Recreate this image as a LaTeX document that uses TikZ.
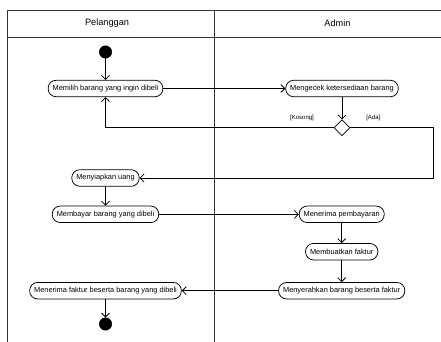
\documentclass[tikz,border=0pt]{standalone}
\usepackage{fontspec}
\setmainfont{Liberation Sans}
\usetikzlibrary{arrows.meta,shapes.geometric}
\tikzset{
  act/.style={draw, line width=0.75pt, rounded corners=8pt, minimum height=16.5pt, inner xsep=4.5pt, inner ysep=0pt, font=\fontsize{7.4}{8}\selectfont, fill=white},
  dot/.style={circle, fill=black, draw=black, minimum size=12.5pt, inner sep=0pt},
  decis/.style={diamond, draw, line width=0.75pt, shape aspect=1, minimum size=16pt, inner sep=0pt, fill=white},
  flow/.style={line width=0.75pt, -{Straight Barb[length=4pt,width=8pt,line width=0.75pt]}},
  lane/.style={line width=0.9pt, draw=black!80},
  guard/.style={font=\fontsize{6}{6}\selectfont, inner sep=0pt},
  head/.style={font=\fontsize{9.2}{10}\selectfont, inner sep=0pt}
}
\begin{document}
\begin{tikzpicture}[x=1pt,y=-1pt]
\useasboundingbox (0,0) rectangle (441,342);
% swimlane frame
\coordinate (tl) at (7,10);
\coordinate (tr) at (441,10);
\coordinate (hl) at (7,37);
\coordinate (hr) at (441,37);
\coordinate (bl) at (7,342);
\coordinate (mt) at (214,10);
\coordinate (mb) at (214,342);
\draw[lane] (tr) -- (tl) -- (bl);
\draw[lane] (hl) -- (hr);
\draw[lane] (mt) -- (mb);
\node[head] (h1) at (107,23.5) {Pelanggan};
\node[head] (h2) at (337.5,23.5) {Admin};
% nodes
\node[dot] (start) at (105.5,52) {};
\node[act] (memilih) at (105.5,88.5) {Memilih barang yang ingin dibeli};
\node[act] (cek) at (342,88.5) {Mengecek ketersediaan barang};
\node[decis] (dec) at (342,127.7) {};
\node[guard] (kos) at (302,118.3) {[Kosong]};
\node[guard] (ada) at (373.3,118.3) {[Ada]};
\node[act] (siap) at (105.5,178) {Menyiapkan uang};
\node[act] (bayar) at (105.5,214.3) {Membayar barang yang dibeli};
\node[act] (terima) at (341.7,214.3) {Menerima pembayaran};
\node[act] (buat) at (341.7,251.7) {Membuatkan faktur};
\node[act] (serah) at (341.7,290.7) {Menyerahkan barang beserta faktur};
\node[act] (faktur) at (105.5,290.7) {Menerima faktur beserta barang yang dibeli};
\node[dot] (end) at (105.5,324) {};
% connectors
\coordinate (rt) at (433.3,127.7);
\draw[flow] (start) -- (memilih);
\draw[flow] (memilih) -- (cek);
\draw[flow] (cek) -- (dec);
\draw[flow] (dec.west) -| (memilih.south);
\draw[flow] (dec.east) -- (rt) |- (siap.east);
\draw[flow] (siap) -- (bayar);
\draw[flow] (bayar) -- (terima);
\draw[flow] (terima) -- (buat);
\draw[flow] (buat) -- (serah);
\draw[flow] (serah) -- (faktur);
\draw[flow] (faktur) -- (end);
\end{tikzpicture}
\end{document}
